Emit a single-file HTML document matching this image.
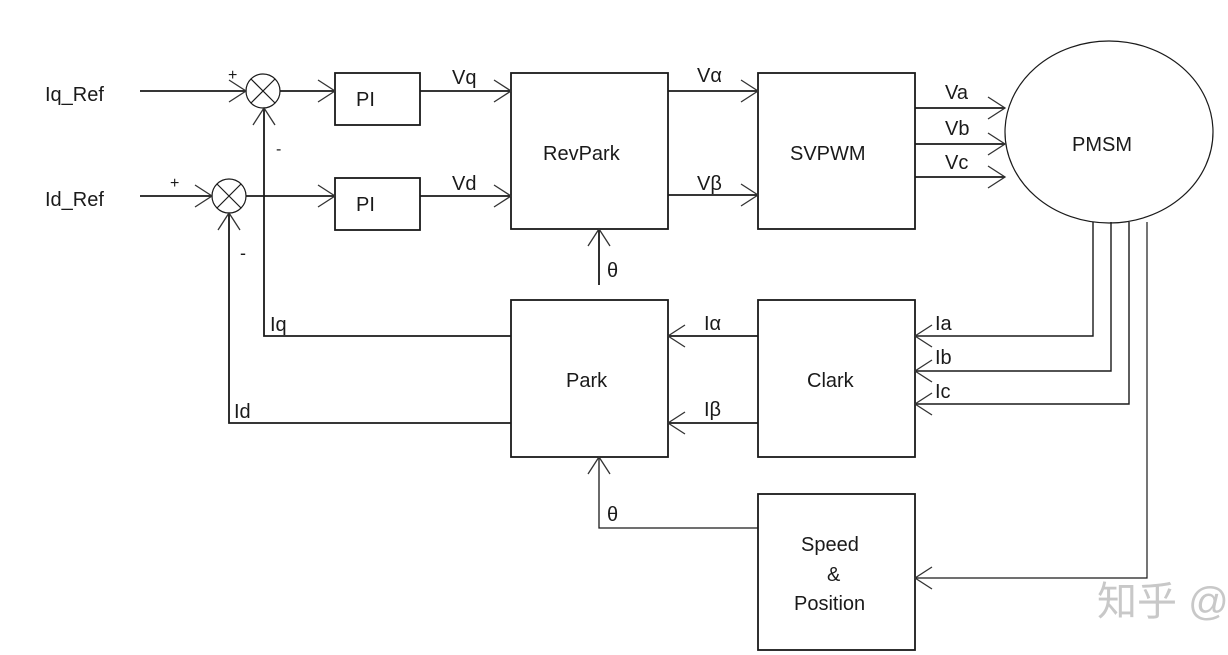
<!DOCTYPE html>
<html><head><meta charset="utf-8"><style>
html,body{margin:0;padding:0;background:#fff;}
svg{display:block;}
text{font-family:"Liberation Sans","Noto Sans CJK SC",sans-serif;fill:#1a1a1a;}
</style></head><body>
<svg width="1228" height="655" viewBox="0 0 1228 655" xmlns="http://www.w3.org/2000/svg">
<defs>
<marker id="a" markerWidth="20" markerHeight="24" refX="18" refY="12" orient="auto" markerUnits="userSpaceOnUse">
<path d="M1,1 L18,12 L1,23" fill="none" stroke="#333" stroke-width="1.3"/>
</marker>
</defs>
<g stroke="#1a1a1a" stroke-width="1.8" fill="none">
<rect x="335" y="73" width="85" height="52"/>
<rect x="335" y="178" width="85" height="52"/>
<rect x="511" y="73" width="157" height="156"/>
<rect x="758" y="73" width="157" height="156"/>
<rect x="511" y="300" width="157" height="157"/>
<rect x="758" y="300" width="157" height="157"/>
<rect x="758" y="494" width="157" height="156"/>
<ellipse cx="1109" cy="132" rx="104" ry="91" stroke-width="1.2"/>
<circle cx="263" cy="91" r="17" stroke-width="1.2"/>
<path d="M251,79 L275,103 M275,79 L251,103" stroke-width="1.2"/>
<circle cx="229" cy="196" r="17" stroke-width="1.2"/>
<path d="M217,184 L241,208 M241,184 L217,208" stroke-width="1.2"/>
<line x1="140" y1="91" x2="246" y2="91" marker-end="url(#a)"/>
<line x1="140" y1="196" x2="212" y2="196" marker-end="url(#a)"/>
<line x1="280" y1="91" x2="335" y2="91" marker-end="url(#a)"/>
<line x1="246" y1="196" x2="335" y2="196" marker-end="url(#a)"/>
<line x1="420" y1="91" x2="511" y2="91" marker-end="url(#a)"/>
<line x1="420" y1="196" x2="511" y2="196" marker-end="url(#a)"/>
<line x1="668" y1="91" x2="758" y2="91" marker-end="url(#a)"/>
<line x1="668" y1="195" x2="758" y2="195" marker-end="url(#a)"/>
<line x1="915" y1="108" x2="1005" y2="108" marker-end="url(#a)"/>
<line x1="915" y1="144" x2="1005" y2="144" marker-end="url(#a)"/>
<line x1="915" y1="177" x2="1005" y2="177" marker-end="url(#a)"/>
<line x1="599" y1="285" x2="599" y2="229" marker-end="url(#a)"/>
<polyline points="511,336 264,336 264,108" marker-end="url(#a)"/>
<polyline points="511,423 229,423 229,213" marker-end="url(#a)"/>
<line x1="758" y1="336" x2="668" y2="336" marker-end="url(#a)"/>
<line x1="758" y1="423" x2="668" y2="423" marker-end="url(#a)"/>
<polyline points="1093,222 1093,336 915,336" marker-end="url(#a)" stroke-width="1.4"/>
<polyline points="1111,222 1111,371 915,371" marker-end="url(#a)" stroke-width="1.4"/>
<polyline points="1129,222 1129,404 915,404" marker-end="url(#a)" stroke-width="1.4"/>
<polyline points="1147,222 1147,578 915,578" marker-end="url(#a)" stroke-width="1.2"/>
<polyline points="758,528 599,528 599,457" marker-end="url(#a)" stroke-width="1.3"/>
</g>
<g font-size="20">
<text x="45" y="101">Iq_Ref</text>
<text x="45" y="206">Id_Ref</text>
<text x="228" y="80" font-size="16">+</text>
<text x="170" y="188" font-size="16">+</text>
<text x="276" y="154" font-size="16">-</text>
<text x="240" y="259" font-size="18">-</text>
<text x="356" y="106">PI</text>
<text x="356" y="211">PI</text>
<text x="452" y="84">Vq</text>
<text x="452" y="190">Vd</text>
<text x="543" y="160">RevPark</text>
<text x="697" y="82">Vα</text>
<text x="697" y="190">Vβ</text>
<text x="790" y="160">SVPWM</text>
<text x="945" y="99">Va</text>
<text x="945" y="135">Vb</text>
<text x="945" y="169">Vc</text>
<text x="1072" y="151">PMSM</text>
<text x="607" y="277">θ</text>
<text x="270" y="331">Iq</text>
<text x="234" y="418">Id</text>
<text x="704" y="330">Iα</text>
<text x="704" y="416">Iβ</text>
<text x="566" y="387">Park</text>
<text x="807" y="387">Clark</text>
<text x="935" y="330">Ia</text>
<text x="935" y="364">Ib</text>
<text x="935" y="398">Ic</text>
<text x="607" y="521">θ</text>
<text x="801" y="551">Speed</text>
<text x="827" y="581">&amp;</text>
<text x="794" y="610">Position</text>
</g>
<text x="1097" y="615" font-size="40" style="fill:#c8c8c8">知乎 @</text>
</svg>
</body></html>
